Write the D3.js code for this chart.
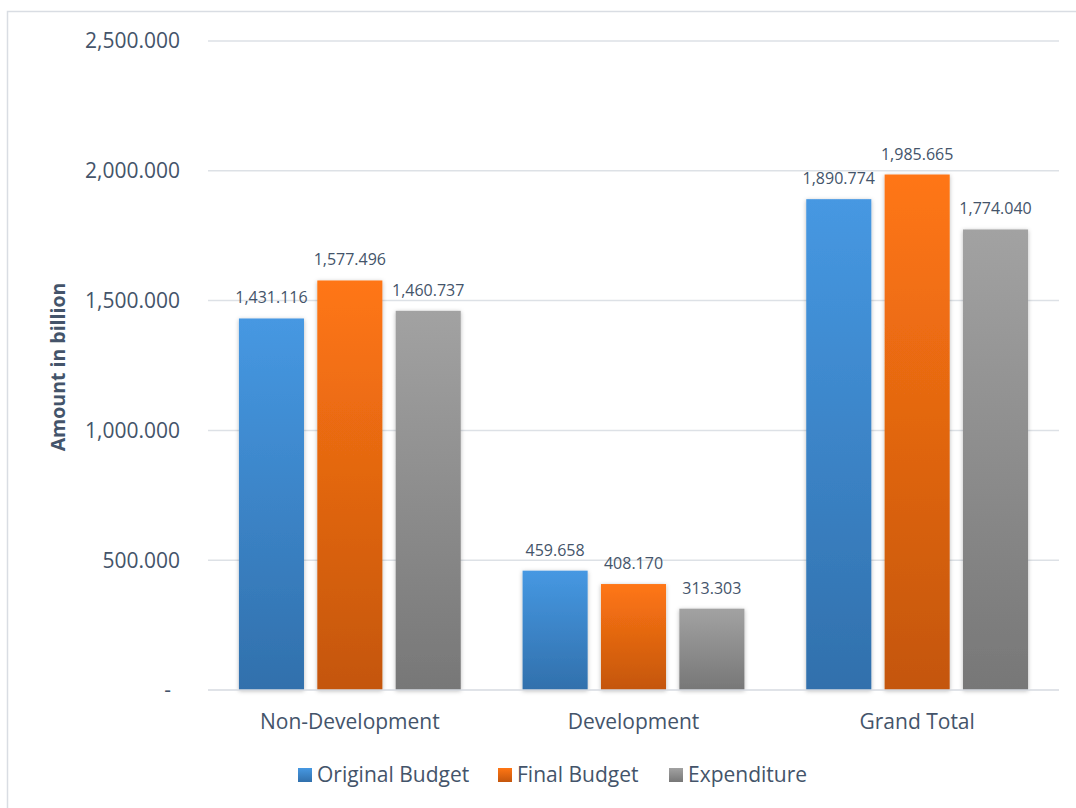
<!DOCTYPE html>
<html>
<head>
<meta charset="utf-8">
<script src="https://cdn.jsdelivr.net/npm/d3@7"></script>
<style>
  html, body { margin: 0; padding: 0; background: #fff; }
  svg { display: block; }
  text { font-family: "Open Sans", "Noto Sans", sans-serif; fill: #44546A; }
</style>
</head>
<body>
<svg id="chart" width="1076" height="808"></svg>
<script>
// Budget figures (amount in billion)
const categories = ["Non-Development", "Development", "Grand Total"];
const seriesNames = ["Original Budget", "Final Budget", "Expenditure"];
const originalBudget = [1431.116, 459.658, 1890.774];
const finalBudget = [1577.496, 408.170, 1985.665];
const expenditure = [1460.737, 313.303, 1774.040];
const yTicks = [0, 500, 1000, 1500, 2000, 2500];
const yTickLabels = ["-", "500.000", "1,000.000", "1,500.000", "2,000.000", "2,500.000"];

const seriesValues = [originalBudget, finalBudget, expenditure];
const seriesColors = [
  { top: "#4698E2", bottom: "#3170AC" },
  { top: "#FF7614", bottom: "#C4560D" },
  { top: "#A2A2A2", bottom: "#777777" }
];

const svg = d3.select("#chart");
const margin = { left: 208, right: 1059, top: 41, bottom: 690 };

// outer chart frame
svg.append("rect")
  .attr("x", 7.5).attr("y", 11.5)
  .attr("width", 1100).attr("height", 900)
  .attr("fill", "none").attr("stroke", "#D9DDE3").attr("stroke-width", 1.5);

const defs = svg.append("defs");
seriesColors.forEach((c, i) => {
  const g = defs.append("linearGradient")
    .attr("id", "grad" + i).attr("x1", 0).attr("y1", 0).attr("x2", 0).attr("y2", 1);
  g.append("stop").attr("offset", "0%").attr("stop-color", c.top);
  g.append("stop").attr("offset", "100%").attr("stop-color", c.bottom);
});
const shadow = defs.append("filter").attr("id", "barShadow")
  .attr("x", "-20%").attr("y", "-5%").attr("width", "140%").attr("height", "110%");
shadow.append("feDropShadow")
  .attr("dx", 0).attr("dy", 1).attr("stdDeviation", 2)
  .attr("flood-color", "#000").attr("flood-opacity", 0.28);

const y = d3.scaleLinear().domain([0, 2500]).range([margin.bottom, margin.top]);
const x0 = d3.scaleBand().domain(categories).range([margin.left, margin.right]);
const bw = x0.bandwidth();
const x1 = d3.scaleBand().domain(d3.range(seriesNames.length))
  .range([bw * 0.109, bw * 0.891]).paddingInner(0.17);

// gridlines
svg.append("g").selectAll("line")
  .data(yTicks.slice(1))
  .join("line")
  .attr("x1", margin.left).attr("x2", margin.right)
  .attr("y1", d => y(d)).attr("y2", d => y(d))
  .attr("stroke", "#DDE1E6").attr("stroke-width", 1.5);

// y tick labels
svg.append("g").selectAll("text")
  .data(yTicks)
  .join("text")
  .attr("x", d => d === 0 ? 171 : 180)
  .attr("y", d => y(d))
  .attr("dy", "0.35em")
  .attr("text-anchor", "end")
  .style("font-size", "21px")
  .text((d, i) => yTickLabels[i]);

// axis title
svg.append("text")
  .attr("transform", "translate(58,367) rotate(-90)")
  .attr("text-anchor", "middle")
  .attr("dy", "0.35em")
  .style("font-size", "19.5px")
  .style("font-weight", "bold")
  .text("Amount in billion");

// bars
const groups = svg.append("g").selectAll("g")
  .data(categories)
  .join("g")
  .attr("transform", d => `translate(${x0(d)},0)`);

groups.each(function (cat, ci) {
  const g = d3.select(this);
  seriesValues.forEach((vals, si) => {
    const v = vals[ci];
    g.append("rect")
      .attr("x", x1(si))
      .attr("width", x1.bandwidth())
      .attr("y", y(v))
      .attr("height", y(0) - y(v))
      .attr("fill", `url(#grad${si})`)
      .attr("filter", "url(#barShadow)");
    g.append("text")
      .attr("x", x1(si) + x1.bandwidth() / 2)
      .attr("y", y(v) - 15)
      .attr("text-anchor", "middle")
      .style("font-size", "16px")
      .text(d3.format(",.3f")(v));
  });
});

// baseline
svg.append("line")
  .attr("x1", margin.left).attr("x2", margin.right)
  .attr("y1", y(0)).attr("y2", y(0))
  .attr("stroke", "#D6DAE0").attr("stroke-width", 1.5);

// category labels
svg.append("g").selectAll("text")
  .data(categories)
  .join("text")
  .attr("x", d => x0(d) + bw / 2)
  .attr("y", 722)
  .attr("dy", "0.35em")
  .attr("text-anchor", "middle")
  .style("font-size", "21px")
  .text(d => d);

// legend
const legendX = [298, 498, 669];
const legend = svg.append("g").selectAll("g")
  .data(seriesNames)
  .join("g")
  .attr("transform", (d, i) => `translate(${legendX[i]},775)`);
legend.append("rect")
  .attr("x", 0).attr("y", -7).attr("width", 14).attr("height", 14)
  .attr("fill", (d, i) => `url(#grad${i})`);
legend.append("text")
  .attr("x", 19).attr("dy", "0.35em")
  .style("font-size", "21px")
  .text(d => d);
</script>
</body>
</html>
